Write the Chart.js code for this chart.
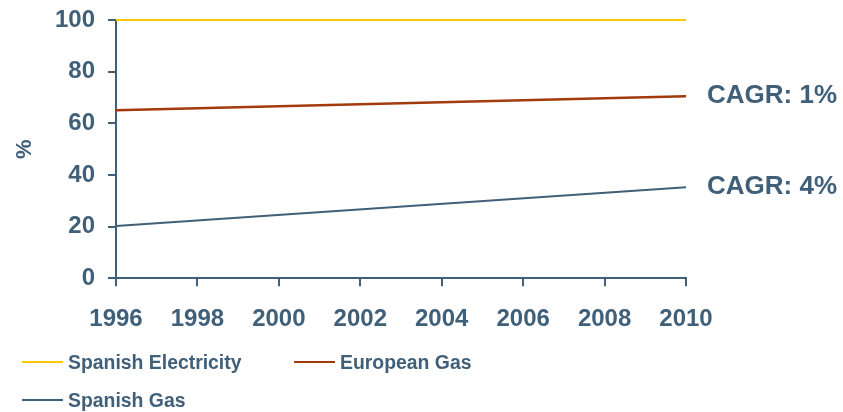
<!DOCTYPE html>
<html>
<head>
<meta charset="utf-8">
<script src="https://cdn.jsdelivr.net/npm/chart.js@4.4.1/dist/chart.umd.min.js"></script>
<style>
  html, body { margin: 0; padding: 0; background: #ffffff; }
  #wrap { position: relative; width: 843px; height: 412px; overflow: hidden; }
  #chart { position: absolute; left: 0; top: 0; }
  #legend {
    position: absolute; left: 22px; top: 343px;
    display: grid; grid-template-columns: 272px 272px;
    font: bold 19.4px "Liberation Sans", Arial, sans-serif; color: #40607a;
  }
  .item { display: flex; align-items: center; height: 38px; white-space: nowrap; }
  .sw { width: 41px; margin-right: 5px; }
</style>
</head>
<body>
<div id="wrap">
  <canvas id="chart" width="843" height="357"></canvas>
  <div id="legend"></div>
</div>
<script>
// Years at the ends of each index line
const years = [1996, 2010];

// Index values (%), one per year above
const spanishElectricity = [100, 100];
const europeanGas = [65.0, 70.5];
const spanishGas = [20.2, 35.2];

// Growth notes printed at the end of each gas line
const cagrLabels = [null, 'CAGR: 1%', 'CAGR: 4%'];

const seriesNames = ['Spanish Electricity', 'European Gas', 'Spanish Gas'];
const seriesColors = ['#ffc800', '#a33a0c', '#40607a'];
const seriesWidths = [2, 2.5, 2];

const yTicks = { min: 0, max: 100, step: 20 };
const xTicks = { min: 1996, max: 2010, step: 2 };

const axisColor = '#40607a';
const fontFamily = '"Liberation Sans", Arial, Helvetica, sans-serif';

const seriesValues = [spanishElectricity, europeanGas, spanishGas];

const datasets = seriesValues.map((vals, i) => ({
  label: seriesNames[i],
  data: vals.map((v, j) => ({ x: years[j], y: v })),
  borderColor: seriesColors[i],
  backgroundColor: seriesColors[i],
  borderWidth: seriesWidths[i],
  pointRadius: 0,
  tension: 0,
  clip: false,
  cagr: cagrLabels[i]
}));

// Writes each dataset's growth note just right of its last point
const endLabels = {
  id: 'endLabels',
  afterDatasetsDraw(chart) {
    const ctx = chart.ctx;
    ctx.save();
    ctx.font = 'bold 26px ' + fontFamily;
    ctx.fillStyle = axisColor;
    ctx.textAlign = 'left';
    ctx.textBaseline = 'middle';
    chart.data.datasets.forEach((ds, i) => {
      if (!ds.cagr) return;
      const pts = chart.getDatasetMeta(i).data;
      const last = pts[pts.length - 1];
      ctx.fillText(ds.cagr, last.x + 21, last.y);
    });
    ctx.restore();
  }
};

// Keep the plot box governed by the layout padding alone
function noEdgePadding(scale) {
  scale.paddingTop = 0;
  scale.paddingBottom = 0;
  scale.paddingLeft = 0;
  scale.paddingRight = 0;
}

new Chart(document.getElementById('chart'), {
  type: 'line',
  data: { datasets },
  options: {
    responsive: false,
    animation: false,
    events: [],
    layout: { padding: { left: 0, right: 157, top: 20, bottom: 4 } },
    plugins: {
      legend: { display: false },
      tooltip: { enabled: false }
    },
    scales: {
      x: {
        type: 'linear',
        min: xTicks.min,
        max: xTicks.max,
        afterFit: noEdgePadding,
        border: { display: true, color: axisColor, width: 2 },
        grid: { display: true, drawOnChartArea: false, drawTicks: true, tickLength: 8, color: axisColor, lineWidth: 2 },
        ticks: {
          stepSize: xTicks.step,
          autoSkip: false,
          maxRotation: 0,
          padding: 19,
          color: axisColor,
          font: { family: fontFamily, size: 24, weight: 'bold' },
          callback: v => String(v)
        }
      },
      y: {
        min: yTicks.min,
        max: yTicks.max,
        afterFit(scale) { noEdgePadding(scale); scale.width = 116; },
        border: { display: true, color: axisColor, width: 2 },
        grid: { display: true, drawOnChartArea: false, drawTicks: true, tickLength: 8, color: axisColor, lineWidth: 2 },
        ticks: {
          stepSize: yTicks.step,
          padding: 13,
          color: axisColor,
          font: { family: fontFamily, size: 24, weight: 'bold' }
        },
        title: {
          display: true,
          text: '%',
          color: axisColor,
          padding: { top: 12, bottom: 0 },
          font: { family: fontFamily, size: 22, weight: 'bold' }
        }
      }
    }
  },
  plugins: [endLabels]
});

// Legend below the plot, two columns
const legend = document.getElementById('legend');
datasets.forEach(ds => {
  const item = document.createElement('div');
  item.className = 'item';
  const sw = document.createElement('span');
  sw.className = 'sw';
  sw.style.height = ds.borderWidth + 'px';
  sw.style.background = ds.borderColor;
  const txt = document.createElement('span');
  txt.textContent = ds.label;
  item.appendChild(sw);
  item.appendChild(txt);
  legend.appendChild(item);
});
</script>
</body>
</html>
